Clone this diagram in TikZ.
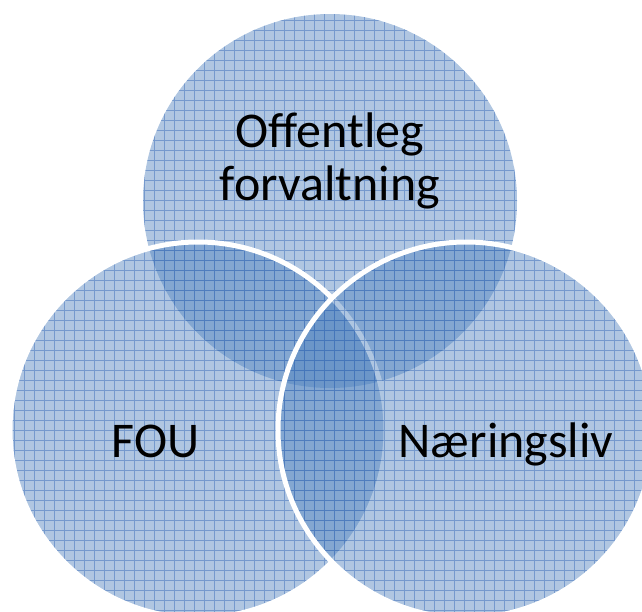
\documentclass[tikz,border=0pt]{standalone}
\usepackage{fontspec}
\setmainfont{Carlito}
\definecolor{venn}{RGB}{79,129,189}
\definecolor{vennline}{RGB}{60,110,185}

\begin{document}
\begin{tikzpicture}[x=1pt,y=-1pt]
    \tikzstyle{ring} = [fill=venn, fill opacity=0.45]
    \tikzstyle{mesh} = [draw=vennline, opacity=0.5, line width=0.8pt]
    \tikzstyle{rim} = [draw=white, line width=5pt]
    \tikzstyle{ann} = [font=\fontsize{50}{53}\selectfont, align=center, text=black, inner sep=0pt]

    \useasboundingbox (0,0) rectangle (642,611);
    \clip (0,0) rectangle (642,611);

    % offentleg forvaltning
    \fill[ring] (330,201) circle (187pt);
    \begin{scope}
        \clip (330,201) circle (187pt);
        \draw[mesh, step=10pt, xshift=4pt] (-10,-10) grid (660,630);
    \end{scope}

    % FOU
    \fill[ring] (198,430) circle (188pt);
    \begin{scope}
        \clip (198,430) circle (188pt);
        \draw[mesh, step=10pt, xshift=4pt] (-10,-10) grid (660,630);
    \end{scope}
    \draw[rim] (198,430) circle (188pt);

    % naeringsliv
    \fill[ring] (466,430) circle (188pt);
    \begin{scope}
        \clip (466,430) circle (188pt);
        \draw[mesh, step=10pt, xshift=4pt] (-10,-10) grid (660,630);
    \end{scope}
    \draw[rim] (466,430) circle (188pt);

    \node[ann] (offentleg) at (330,161) {Offentleg\\forvaltning};
    \node[ann, anchor=base] (fou) at (155.5,457) {FOU};
    \node[ann, anchor=base] (naering) at (506,457) {Næringsliv};
\end{tikzpicture}
\end{document}
